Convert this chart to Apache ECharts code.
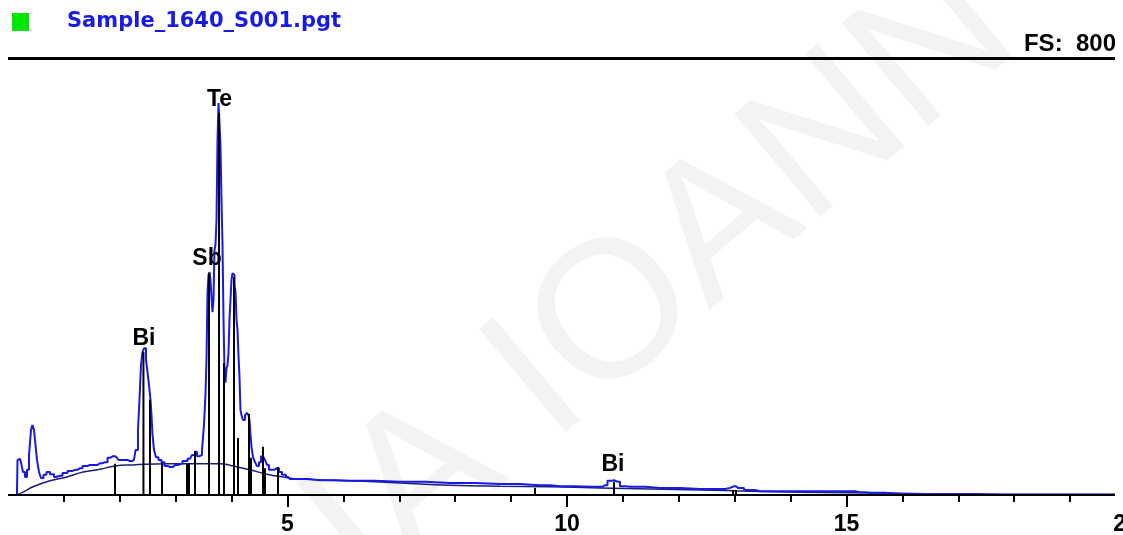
<!DOCTYPE html>
<html>
<head>
<meta charset="utf-8">
<script src="https://cdn.jsdelivr.net/npm/echarts@6/dist/echarts.min.js"></script>
<style>
  html, body { margin: 0; padding: 0; background: #ffffff; }
  #chart { width: 1123px; height: 535px; }
</style>
</head>
<body>
<div id="chart"></div>
<script>
// EDS spectrum: energy in keV, intensity in counts (full scale 800)
const spectrum = [
  [0.16,0],[0.18,64],[0.215,66],[0.25,60],[0.286,42],[0.322,33],[0.358,46],[0.394,73],[0.429,119],[0.447,128],
  [0.483,119],[0.501,91],[0.537,64],[0.572,42],[0.608,31],[0.662,37],[0.716,42],[0.787,38],[0.859,33],[0.93,35],
  [1.02,40],[1.109,44],[1.199,46],[1.288,49],[1.377,53],[1.467,55],[1.556,55],[1.646,58],[1.735,60],[1.825,68],
  [1.878,71],[1.95,68],[2.004,64],[2.093,64],[2.182,62],[2.254,64],[2.308,82],[2.343,119],[2.361,174],[2.397,237],
  [2.415,261],[2.451,268],[2.487,247],[2.504,225],[2.54,201],[2.558,174],[2.576,146],[2.594,110],[2.63,82],[2.665,69],
  [2.719,64],[2.773,60],[2.826,53],[2.898,51],[2.952,51],[3.023,55],[3.077,58],[3.166,62],[3.256,66],[3.327,73],
  [3.363,79],[3.399,71],[3.453,73],[3.488,82],[3.524,128],[3.542,183],[3.56,247],[3.578,369],[3.596,402],[3.614,407],
  [3.631,393],[3.649,362],[3.667,334],[3.685,356],[3.703,447],[3.721,457],[3.739,502],[3.757,648],[3.775,716],[3.792,716],
  [3.81,639],[3.828,539],[3.846,460],[3.864,323],[3.882,228],[3.9,205],[3.918,232],[3.936,237],[3.953,259],[3.971,320],
  [3.989,356],[4.007,393],[4.025,405],[4.043,402],[4.061,384],[4.079,371],[4.097,320],[4.114,301],[4.132,256],[4.15,216],
  [4.168,155],[4.186,146],[4.222,137],[4.258,146],[4.293,150],[4.311,146],[4.329,137],[4.347,110],[4.365,88],[4.401,69],
  [4.436,60],[4.472,53],[4.508,60],[4.544,71],[4.58,73],[4.615,64],[4.651,55],[4.687,46],[4.741,46],[4.794,49],
  [4.83,49],[4.866,42],[4.937,37],[5.009,33],[5.08,29],[5.224,29],[5.581,27],[6.118,26],[7.012,24],[7.907,22],
  [8.801,20],[9.517,18],[9.875,16],[10.411,15],[10.59,15],[10.68,18],[10.769,26],[10.841,27],[10.912,24],[10.984,16],
  [11.127,15],[11.664,13],[12.379,11],[12.737,11],[12.916,13],[12.987,16],[13.059,13],[13.274,9],[13.452,7],[14.168,7],
  [15.063,7],[15.241,5],[15.42,4],[15.957,2],[16.851,2],[17.746,1],[19.8,1]
];

// Fitted background (bremsstrahlung) curve
const background = [
  [0.161,0],[0.304,7],[0.447,15],[0.751,26],[1.055,33],[1.342,42],[1.646,47],[1.914,53],[2.236,55],[2.844,57],
  [3.435,57],[3.792,57],[4.025,53],[4.329,46],[4.633,38],[4.919,33],[5.224,29],[6.118,26],[7.012,22],[7.907,18],
  [8.801,16],[9.696,15],[10.59,13],[11.485,11],[12.379,9],[13.274,7],[14.168,5],[15.063,4],[15.957,3],[16.851,2],
  [17.746,1],[19.8,1]
];

// Element line markers: energy (keV) and marker height (counts)
const markerEnergy = [1.914, 2.423, 2.54, 2.755, 3.202, 3.238, 3.345, 3.596, 3.775, 3.864, 4.043,
                      4.114, 4.311, 4.347, 4.562, 4.597, 4.83, 9.428, 10.841, 12.97, 13.023];
const markerHeight = [57, 261, 174, 58, 57, 57, 80, 405, 698, 241, 398,
                      104, 148, 68, 88, 49, 51, 13, 24, 9, 9];

// Peak identification labels
const peakNames  = ['Bi', 'Sb', 'Te', 'Bi'];
const peakEnergy = [2.433, 3.56, 3.784, 10.823];
const peakCounts = [285, 431, 723, 55];

// Energy axis
const minorTickValues = [1, 2, 3, 4, 6, 7, 8, 9, 11, 12, 13, 14, 16, 17, 18, 19];
const majorTickValues = [5, 10, 15, 20];
const axisEnd = [[0, 0], [19.8, 0]];

const fileName = 'Sample_1640_S001.pgt';
const fullScale = 800;

const chart = echarts.init(document.getElementById('chart'), null, { renderer: 'canvas' });

const labelFont = { fontFamily: '"Liberation Sans", Arial, sans-serif', fontWeight: 'bold', fontSize: 23, color: '#000' };

chart.setOption({
  animation: false,
  backgroundColor: '#ffffff',
  grid: { left: 8, right: -3, top: 57, bottom: 40, containLabel: false, outerBoundsMode: 'none' },
  xAxis: [
    {
      type: 'value', min: 0, max: 20,
      axisLine: { show: false },
      axisTick: { show: true, length: 7, customValues: minorTickValues, lineStyle: { color: '#000', width: 2 } },
      axisLabel: { show: false },
      splitLine: { show: false }
    },
    {
      type: 'value', min: 0, max: 20, position: 'bottom',
      axisLine: { show: false },
      axisTick: { show: true, length: 12, customValues: majorTickValues, lineStyle: { color: '#000', width: 2 } },
      axisLabel: Object.assign({ show: true, margin: 18, customValues: majorTickValues, showMaxLabel: true, hideOverlap: false }, labelFont),
      splitLine: { show: false }
    }
  ],
  yAxis: { type: 'value', min: 0, max: fullScale, show: false },
  graphic: [
    {
      type: 'text', silent: true, z: -10,
      x: 662, y: 280, rotation: 0.70,
      style: {
        text: 'IA IOANN', x: 0, y: 0, align: 'center', verticalAlign: 'middle',
        font: '195px "Liberation Sans", Arial, sans-serif', fill: '#f3f3f3'
      }
    },
    { type: 'rect', shape: { x: 12, y: 13, width: 17, height: 18 }, style: { fill: '#00e600' } },
    {
      type: 'text', x: 67, y: 22,
      style: { text: fileName, align: 'left', verticalAlign: 'middle',
               font: 'bold 21px "DejaVu Sans", Verdana, sans-serif', fill: '#1a1ae6' }
    },
    {
      type: 'text', x: 1116, y: 44,
      style: { text: 'FS:  ' + fullScale, align: 'right', verticalAlign: 'middle',
               font: 'bold 24px "Liberation Sans", Arial, sans-serif', fill: '#000' }
    },
    { type: 'line', shape: { x1: 8, y1: 58.5, x2: 1115, y2: 58.5 }, style: { stroke: '#000', lineWidth: 3 } }
  ],
  series: [
    {
      name: 'background', type: 'line', data: background, smooth: true, symbol: 'none', silent: true,
      lineStyle: { color: '#1e1e78', width: 1.5 }, z: 3
    },
    {
      name: 'spectrum', type: 'line', data: spectrum, step: 'middle', symbol: 'none', silent: true,
      lineStyle: { color: '#1a1ae6', width: 2 }, z: 4
    },
    {
      name: 'lines', type: 'custom', silent: true, z: 5,
      data: markerEnergy.map((e, i) => [e, markerHeight[i]]),
      encode: { x: 0, y: 1 },
      renderItem: function (params, api) {
        const p0 = api.coord([api.value(0), 0]);
        const p1 = api.coord([api.value(0), api.value(1)]);
        return { type: 'line', shape: { x1: p0[0], y1: p0[1], x2: p1[0], y2: p1[1] },
                 style: { stroke: '#000', lineWidth: 2 } };
      }
    },
    {
      name: 'axis', type: 'line', data: axisEnd, symbol: 'none', silent: true,
      lineStyle: { color: '#000', width: 2 }, z: 6
    },
    {
      name: 'peaks', type: 'scatter', silent: true, symbolSize: 0, z: 7,
      itemStyle: { opacity: 1 },
      data: peakEnergy.map((e, i) => ({ value: [e, peakCounts[i]], name: peakNames[i] })),
      label: Object.assign({ show: true, position: 'inside', formatter: '{b}', opacity: 1 }, labelFont)
    }
  ]
});
</script>
</body>
</html>
